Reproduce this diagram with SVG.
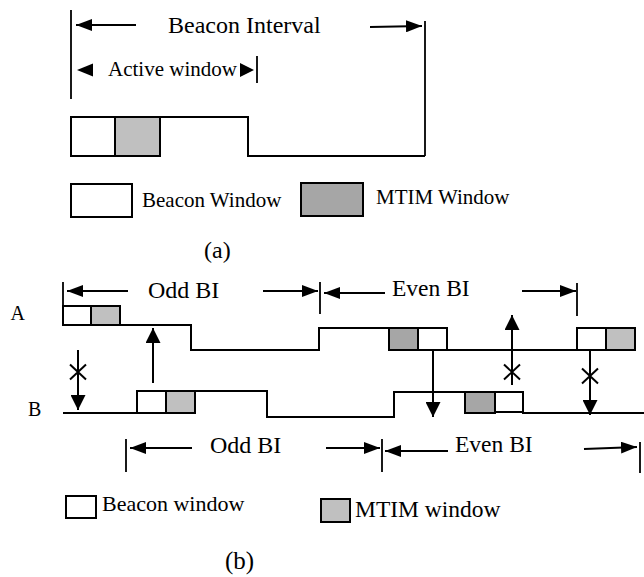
<svg xmlns="http://www.w3.org/2000/svg" width="644" height="577" viewBox="0 0 644 577">
  <style>
    text { font-family: "Liberation Serif", "Times New Roman", serif; fill: #000; }
    .ln { fill: none; stroke: #000; stroke-width: 2; }
    .tk { fill: none; stroke: #000; stroke-width: 1.8; }
    .bw { fill: #fff; stroke: #000; stroke-width: 2; }
    .mt { fill: #c0c0c0; stroke: #000; stroke-width: 2; }
    .md { fill: #a6a6a6; stroke: #000; stroke-width: 2; }
  </style>
  <defs>
    <marker id="ah" viewBox="0 0 16 12" refX="16" refY="6" markerWidth="16" markerHeight="12" orient="auto" markerUnits="userSpaceOnUse">
      <path d="M0,0 L16,6 L0,12 z" fill="#000"/>
    </marker>
    <marker id="av" viewBox="0 0 15 15" refX="15" refY="7.5" markerWidth="15" markerHeight="15" orient="auto" markerUnits="userSpaceOnUse">
      <path d="M0,0 L15,7.5 L0,15 z" fill="#000"/>
    </marker>
  </defs>

  <!-- (a) single beacon interval -->
  <g id="beacon-interval">
    <line class="tk" x1="71" y1="10" x2="71" y2="99"/>
    <line class="ln" x1="136" y1="25" x2="76" y2="25" marker-end="url(#ah)"/>
    <text x="168" y="33" font-size="24">Beacon Interval</text>
    <line class="ln" x1="370" y1="27" x2="422" y2="26" marker-end="url(#ah)"/>
    <line class="tk" x1="425" y1="21" x2="425" y2="156"/>
  </g>
  <g id="active-window">
    <polygon points="77,70 93,63.5 93,76.5" fill="#000"/>
    <text x="108" y="76" font-size="21">Active window</text>
    <polygon points="254,70 240,63 240,77" fill="#000"/>
    <line class="tk" x1="257" y1="56" x2="257" y2="83"/>
  </g>
  <g id="waveform-a">
    <rect class="bw" x="71" y="117" width="44" height="39"/>
    <rect class="mt" x="115" y="117" width="45" height="39"/>
    <path class="ln" d="M160,117 H248 V156 H425"/>
  </g>
  <g id="legend-a">
    <rect class="bw" x="71" y="184" width="61" height="33"/>
    <text x="142" y="207" font-size="21">Beacon Window</text>
    <rect class="md" x="301" y="183" width="62" height="33"/>
    <text x="376" y="204" font-size="21">MTIM Window</text>
  </g>
  <text id="caption-a" x="204" y="258" font-size="24">(a)</text>

  <!-- (b) two stations, odd / even beacon intervals -->
  <g id="station-labels">
    <text x="25" y="320" font-size="20" text-anchor="end">A</text>
    <text x="28" y="416" font-size="20">B</text>
  </g>

  <g id="intervals-a">
    <line class="tk" x1="63" y1="282" x2="63" y2="306"/>
    <line class="ln" x1="128" y1="291" x2="67" y2="291" marker-end="url(#ah)"/>
    <text x="148" y="298" font-size="24">Odd BI</text>
    <line class="ln" x1="263" y1="291" x2="318" y2="291" marker-end="url(#ah)"/>
    <line class="tk" x1="320" y1="282" x2="320" y2="314"/>
    <line class="ln" x1="385" y1="293" x2="324" y2="293" marker-end="url(#ah)"/>
    <text x="392" y="296" font-size="23.5">Even BI</text>
    <line class="ln" x1="522" y1="291" x2="576" y2="291" marker-end="url(#ah)"/>
    <line class="tk" x1="577" y1="283" x2="577" y2="316"/>
  </g>

  <g id="waveform-A">
    <rect class="bw" x="63" y="306" width="28" height="19"/>
    <rect class="mt" x="91" y="306" width="29" height="19"/>
    <path class="ln" d="M120,325 H191 V350 H319 V328 H389"/>
    <rect class="md" x="389" y="328" width="29" height="22"/>
    <rect class="bw" x="418" y="328" width="29" height="22"/>
    <path class="ln" d="M447,350 H577"/>
    <rect class="bw" x="577" y="328" width="29" height="22"/>
    <rect class="mt" x="606" y="328" width="29" height="22"/>
  </g>

  <g id="waveform-B">
    <path class="ln" d="M63,413 H137"/>
    <rect class="bw" x="137" y="391" width="29" height="22"/>
    <rect class="mt" x="166" y="391" width="29" height="22"/>
    <path class="ln" d="M195,391 H267 V417 H394 V392 H465"/>
    <rect class="md" x="465" y="392" width="30" height="21"/>
    <rect class="bw" x="495" y="392" width="28" height="20"/>
    <path class="ln" d="M522,413 H644"/>
  </g>

  <g id="connectors">
    <line class="ln" x1="153" y1="383" x2="153" y2="328" marker-end="url(#av)"/>
    <line class="ln" x1="78" y1="350" x2="78" y2="410" marker-end="url(#av)"/>
    <path class="ln" d="M70,364.5 L86,379.5 M86,364.5 L70,379.5"/>
    <line class="ln" x1="433" y1="350" x2="433" y2="417" marker-end="url(#av)"/>
    <line class="ln" x1="512" y1="385" x2="512" y2="315" marker-end="url(#av)"/>
    <path class="ln" d="M504,364.5 L520,379.5 M520,364.5 L504,379.5"/>
    <line class="ln" x1="590" y1="350" x2="590" y2="415" marker-end="url(#av)"/>
    <path class="ln" d="M582,368.5 L598,383.5 M598,368.5 L582,383.5"/>
  </g>

  <g id="intervals-B">
    <line class="tk" x1="126" y1="439" x2="126" y2="472"/>
    <line class="ln" x1="192" y1="448" x2="130" y2="448" marker-end="url(#ah)"/>
    <text x="210" y="453" font-size="24">Odd BI</text>
    <line class="ln" x1="326" y1="448" x2="380" y2="448" marker-end="url(#ah)"/>
    <line class="tk" x1="382" y1="439" x2="382" y2="472"/>
    <line class="ln" x1="448" y1="451" x2="385" y2="451" marker-end="url(#ah)"/>
    <text x="455" y="452" font-size="23.5">Even BI</text>
    <line class="ln" x1="584" y1="449" x2="637" y2="447" marker-end="url(#ah)"/>
    <line class="tk" x1="640" y1="442" x2="640" y2="473"/>
  </g>

  <g id="legend-b">
    <rect class="bw" x="66" y="496" width="30" height="22"/>
    <text x="102" y="511" font-size="22">Beacon window</text>
    <rect class="mt" x="321" y="499" width="29" height="23"/>
    <text x="355" y="517" font-size="23.5">MTIM window</text>
  </g>
  <text id="caption-b" x="225" y="569" font-size="25">(b)</text>
</svg>
